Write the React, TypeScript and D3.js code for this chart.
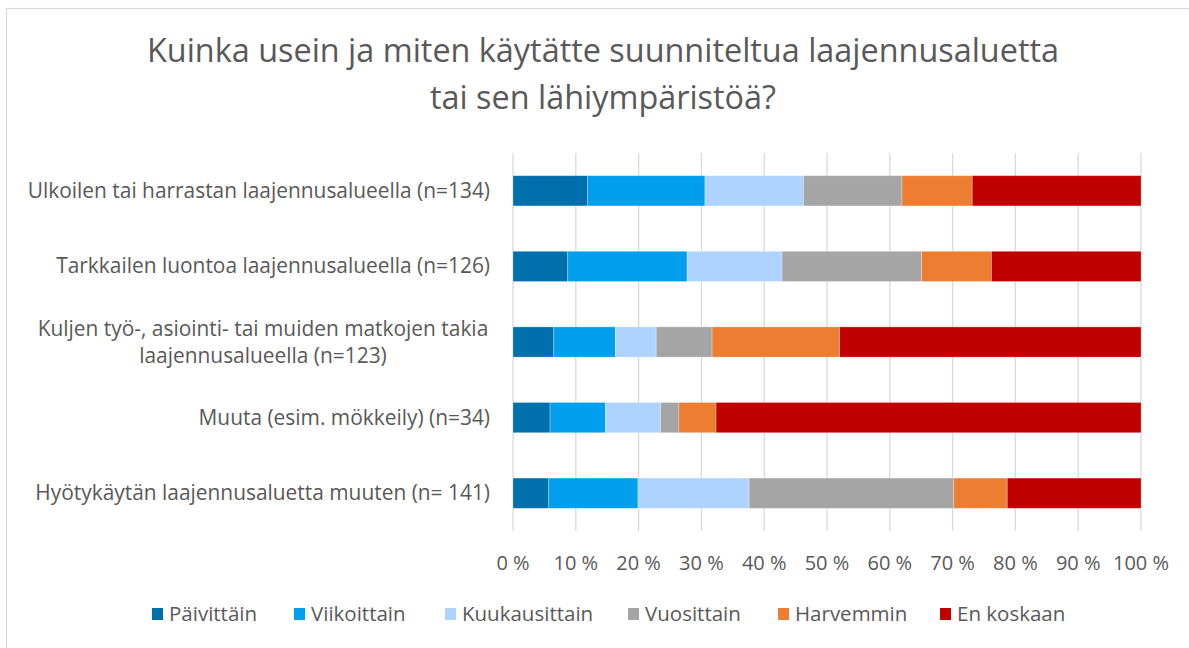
import React from "react";
import * as d3 from "d3";

const categories = [
  "Ulkoilen tai harrastan laajennusalueella (n=134)",
  "Tarkkailen luontoa laajennusalueella (n=126)",
  "Kuljen työ-, asiointi- tai muiden matkojen takia|laajennusalueella (n=123)",
  "Muuta (esim. mökkeily) (n=34)",
  "Hyötykäytän laajennusaluetta muuten (n= 141)",
];

const seriesNames = ["Päivittäin", "Viikoittain", "Kuukausittain", "Vuosittain", "Harvemmin", "En koskaan"];

const paivittain = [11.9, 8.7, 6.5, 5.9, 5.7];
const viikoittain = [18.7, 19.0, 9.8, 8.8, 14.2];
const kuukausittain = [15.7, 15.1, 6.5, 8.8, 17.7];
const vuosittain = [15.7, 22.2, 8.9, 2.9, 32.6];
const harvemmin = [11.2, 11.1, 20.3, 5.9, 8.5];
const enKoskaan = [26.9, 23.8, 48.0, 67.6, 21.3];

const seriesValues = [paivittain, viikoittain, kuukausittain, vuosittain, harvemmin, enKoskaan];
const colors = ["#0070AC", "#009FEE", "#AED3FE", "#A5A5A5", "#ED7D31", "#C00000"];

const tickValues = [0, 0.1, 0.2, 0.3, 0.4, 0.5, 0.6, 0.7, 0.8, 0.9, 1];
const titleLines = ["Kuinka usein ja miten käytätte suunniteltua laajennusaluetta", "tai sen lähiympäristöä?"];

const FONT = "'Open Sans', 'Noto Sans', sans-serif";

export default function App() {
  const W = 1189;
  const H = 648;
  const x = d3.scaleLinear().domain([0, 1]).range([513, 1141]);
  const y = d3.scaleBand<string>().domain(categories).range([153, 531]).paddingInner(0.6).paddingOuter(0.3);

  const rows = categories.map((c, i) => {
    const r: any = { cat: c };
    seriesNames.forEach((s, j) => (r[s] = seriesValues[j][i]));
    return r;
  });
  const stack = d3.stack<any>().keys(seriesNames).offset(d3.stackOffsetExpand);
  const stacked = stack(rows);

  const legendX = [152, 294, 445, 628, 778, 940];

  return (
    <div style={{ position: "absolute", left: 0, top: 0 }}>
      <svg width={W} height={H} style={{ display: "block", fontFamily: FONT }}>
        <rect x={0} y={0} width={W} height={H} fill="#fff" />
        <rect x={6.5} y={8.5} width={1300} height={800} fill="#fff" stroke="#D9D9D9" strokeWidth={1.2} />
        {titleLines.map((t, i) => (
          <text key={i} x={603} y={62 + i * 47} textAnchor="middle" fontSize={32.4} fill="#595959">
            {t}
          </text>
        ))}
        {tickValues.map((t) => (
          <line key={t} x1={x(t)} x2={x(t)} y1={153} y2={531} stroke="#D9D9D9" strokeWidth={1.3} />
        ))}
        {stacked.map((s, j) => (
          <g key={s.key} fill={colors[j]}>
            {s.map((d, i) => (
              <rect
                key={i}
                x={x(d[0])}
                y={y(categories[i])}
                width={x(d[1]) - x(d[0])}
                height={y.bandwidth()}
                stroke="#ffffff"
                strokeOpacity={0.35}
                strokeWidth={0.8}
              />
            ))}
          </g>
        ))}
        {categories.map((c) => {
          const lines = c.split("|");
          const cy = (y(c) as number) + y.bandwidth() / 2;
          if (lines.length === 1) {
            return (
              <text key={c} x={490} y={cy + 7} textAnchor="end" fontSize={20.9} fill="#595959">
                {c}
              </text>
            );
          }
          return (
            <g key={c}>
              {lines.map((l, k) => (
                <text key={k} x={263} y={cy - 13 + 7 + k * 26.5} textAnchor="middle" fontSize={20.9} fill="#595959">
                  {l}
                </text>
              ))}
            </g>
          );
        })}
        {tickValues.map((t) => (
          <text key={t} x={x(t)} y={570} textAnchor="middle" fontSize={20} fill="#595959">
            {`${Math.round(t * 100)} %`}
          </text>
        ))}
        {seriesNames.map((s, j) => (
          <g key={s}>
            <rect x={legendX[j]} y={608} width={11} height={12} fill={colors[j]} />
            <text x={legendX[j] + 17} y={621} fontSize={20.5} fill="#595959">
              {s}
            </text>
          </g>
        ))}
      </svg>
    </div>
  );
}
